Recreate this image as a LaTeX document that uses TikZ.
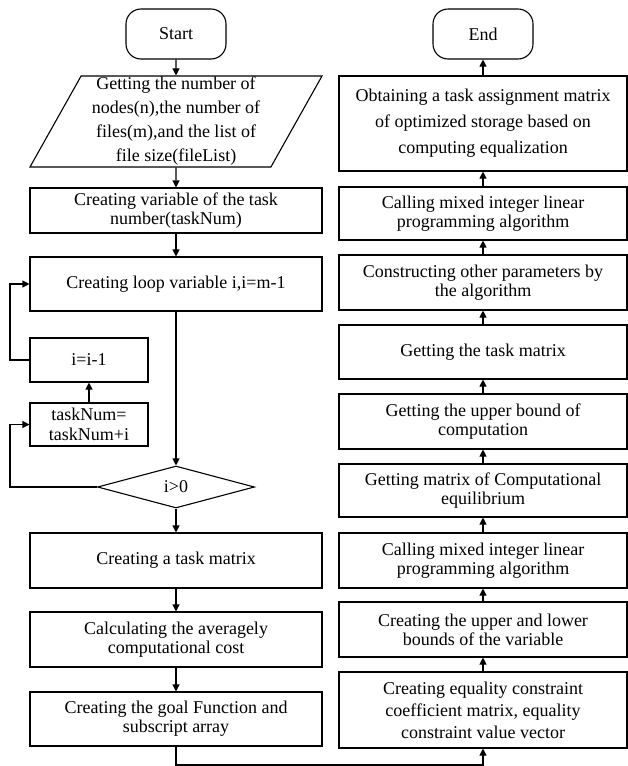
\documentclass[tikz,border=0pt]{standalone}
\usepackage{fontspec}
\setmainfont{Liberation Serif}
\usetikzlibrary{shapes.geometric,arrows.meta}

\tikzset{
  flow/.style={line width=1.1pt, -{Triangle[length=7pt,width=7pt]}},
  term/.style={draw, line width=1.1pt, rounded corners=15pt, minimum width=100, minimum height=50, font=\fontsize{18}{19}\selectfont},
  box/.style={draw, line width=1.1pt, align=center, inner sep=0pt, font=\fontsize{18}{19}\selectfont},
  lbox/.style={box, minimum width=292},
  rbox/.style={box, minimum width=288},
  io/.style={draw, line width=1.1pt, trapezium, trapezium left angle=60, trapezium right angle=120, trapezium stretches body=true, minimum width=292, minimum height=91, align=center, inner sep=0pt, font=\fontsize{18}{24}\selectfont},
  cond/.style={draw, line width=1.1pt, diamond, minimum width=157, minimum height=42, inner sep=0pt, font=\fontsize{18}{19}\selectfont}
}

\begin{document}
\begin{tikzpicture}[x=1pt, y=-1pt]
  \useasboundingbox (0,0) rectangle (628,766);
  % left column
  \node[term] (start) at (176,34) {Start};
  \node[io] (inp) at (176,121.5) {Getting the number of\\nodes(n),the number of\\files(m),and the list of\\file size(fileList)};
  \node[lbox, minimum height=45] (var) at (176,210.5) {Creating variable of the task\\number(taskNum)};
  \node[lbox, minimum height=54] (loop) at (176,284) {Creating loop variable i,i=m-1};
  \node[box, minimum width=118, minimum height=44] (decr) at (89,360) {i=i-1};
  \node[box, minimum width=118, minimum height=43, font=\fontsize{18}{20}\selectfont] (tnum) at (89,424.5) {taskNum=\\taskNum+i};
  \node[cond] (cmp) at (176,487) {i>0};
  \node[lbox, minimum height=55] (mat) at (176,560.5) {Creating a task matrix};
  \node[lbox, minimum height=55] (avg) at (176,639.5) {Calculating the averagely\\computational cost};
  \node[lbox, minimum height=54] (goal) at (176,719) {Creating the goal Function and\\subscript array};
  % right column
  \node[term] (end) at (483,34) {End};
  \node[rbox, minimum height=95, font=\fontsize{18}{26}\selectfont] (obt) at (483,123.5) {Obtaining a task assignment matrix\\of optimized storage based on\\computing equalization};
  \node[rbox, minimum height=53] (cal1) at (483,213.5) {Calling mixed integer linear\\programming algorithm};
  \node[rbox, minimum height=55] (cons) at (483,282.5) {Constructing other parameters by\\the algorithm};
  \node[rbox, minimum height=54] (gtm) at (483,352) {Getting the task matrix};
  \node[rbox, minimum height=55] (gub) at (483,421.5) {Getting the upper bound of\\computation};
  \node[rbox, minimum height=53] (gmc) at (483,490.5) {Getting matrix of Computational\\equilibrium};
  \node[rbox, minimum height=55] (cal2) at (483,560.5) {Calling mixed integer linear\\programming algorithm};
  \node[rbox, minimum height=55] (cul) at (483,629.5) {Creating the upper and lower\\bounds of the variable};
  \node[rbox, minimum height=76, font=\fontsize{18}{22}\selectfont] (eq) at (483,710) {Creating equality constraint\\coefficient matrix, equality\\constraint value vector};

  \draw[flow] (start) -- (inp);
  \draw[flow] (inp) -- (var);
  \draw[flow] (var) -- (loop);
  \draw[flow] (loop) -- (cmp);
  \draw[flow] (cmp.west) -| (10,424.5) -- (tnum.west);
  \draw[flow] (tnum) -- (decr);
  \draw[flow] (decr.west) -| (10,284) -- (loop.west);
  \draw[flow] (cmp) -- (mat);
  \draw[flow] (mat) -- (avg);
  \draw[flow] (avg) -- (goal);
  \draw[flow] (goal.south) -- (176,765) -| (eq.south);
  \draw[flow] (eq) -- (cul);
  \draw[flow] (cul) -- (cal2);
  \draw[flow] (cal2) -- (gmc);
  \draw[flow] (gmc) -- (gub);
  \draw[flow] (gub) -- (gtm);
  \draw[flow] (gtm) -- (cons);
  \draw[flow] (cons) -- (cal1);
  \draw[flow] (cal1) -- (obt);
  \draw[flow] (obt) -- (end);
\end{tikzpicture}
\end{document}
